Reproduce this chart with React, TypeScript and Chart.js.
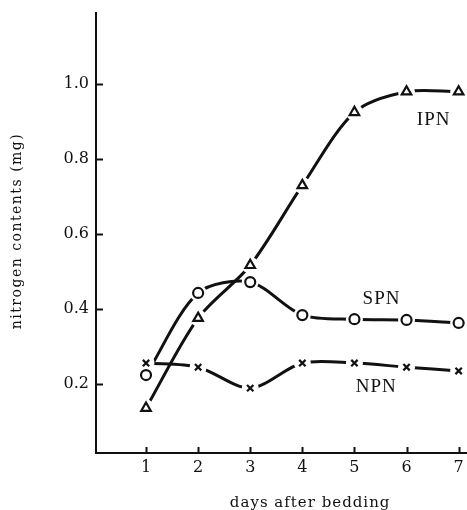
import React, { useEffect, useRef } from 'react';
import { Chart, registerables } from 'chart.js';
Chart.register(...registerables);

const days = [1, 2, 3, 4, 5, 6, 7];
const ipn = [0.136, 0.376, 0.517, 0.73, 0.925, 0.98, 0.98];
const spn = [0.224, 0.443, 0.472, 0.384, 0.373, 0.371, 0.363];
const npn = [0.256, 0.245, 0.189, 0.256, 0.256, 0.245, 0.235];
const yTicks = [0.2, 0.4, 0.6, 0.8, 1.0];
const xTicks = [1, 2, 3, 4, 5, 6, 7];
const seriesNames = ['IPN', 'SPN', 'NPN'];
const xTitle = 'days after bedding';
const yTitle = 'nitrogen contents (mg)';

// annotation anchors in data coordinates
const noteAnchors = [
  { x: 6.52, y: 0.905 },
  { x: 5.52, y: 0.428 },
  { x: 5.42, y: 0.193 },
];

const INK = '#111111';

const toPts = (vals: number[]) => days.map((d, i) => ({ x: d, y: vals[i] }));

const decor = {
  id: 'decor',
  afterDraw(chart: any) {
    const { ctx } = chart;
    const x = chart.scales.x;
    const y = chart.scales.y;
    ctx.save();
    ctx.strokeStyle = INK;
    ctx.lineWidth = 2;
    yTicks.forEach((v) => {
      const py = Math.round(y.getPixelForValue(v)) + 0.5;
      ctx.beginPath();
      ctx.moveTo(x.left, py);
      ctx.lineTo(x.left + 7, py);
      ctx.stroke();
    });
    xTicks.forEach((v) => {
      const px = Math.round(x.getPixelForValue(v)) + 0.5;
      ctx.beginPath();
      ctx.moveTo(px, y.bottom);
      ctx.lineTo(px, y.bottom - 6);
      ctx.stroke();
    });
    ctx.fillStyle = INK;
    ctx.textAlign = 'center';
    ctx.textBaseline = 'middle';
    ctx.font = '19px "Liberation Serif"';
    (ctx as any).letterSpacing = '1px';
    seriesNames.forEach((n, i) => {
      ctx.fillText(n, x.getPixelForValue(noteAnchors[i].x), y.getPixelForValue(noteAnchors[i].y));
    });
    ctx.font = '15px "DejaVu Serif"';
    (ctx as any).letterSpacing = '1px';
    ctx.fillText(xTitle, x.getPixelForValue(4.15), 503);
    ctx.save();
    ctx.translate(17, 231);
    ctx.rotate(-Math.PI / 2);
    ctx.font = '14px "DejaVu Serif"';
    (ctx as any).letterSpacing = '1.5px';
    ctx.fillText(yTitle, 0, 0);
    ctx.restore();
    ctx.restore();
  },
};

export default function App() {
  const ref = useRef<HTMLCanvasElement>(null);
  useEffect(() => {
    if (!ref.current) return;
    const lineDs = (data: number[]) => ({
      data: toPts(data),
      borderColor: INK,
      borderWidth: 3,
      pointRadius: 0,
      tension: 0.3,
      fill: false,
      order: 3,
    });
    const haloDs = (data: number[]) => ({
      data: toPts(data),
      showLine: false,
      pointRadius: 8.5,
      pointBackgroundColor: '#ffffff',
      pointBorderWidth: 0,
      pointBorderColor: '#ffffff',
      order: 2,
    });
    const markDs = (data: number[], style: any, r: number) => ({
      data: toPts(data),
      showLine: false,
      pointStyle: style,
      pointRadius: r,
      pointBackgroundColor: '#ffffff',
      pointBorderColor: INK,
      pointBorderWidth: 2.2,
      order: 1,
    });
    const chart = new Chart(ref.current, {
      type: 'line',
      data: {
        datasets: [
          lineDs(ipn), lineDs(spn), lineDs(npn),
          haloDs(ipn), haloDs(spn), haloDs(npn),
          markDs(ipn, 'triangle', 5.5), markDs(spn, 'circle', 5), markDs(npn, 'crossRot', 4.5),
        ] as any,
      },
      options: {
        animation: false,
        responsive: false,
        events: [],
        layout: { padding: { top: 13, right: 0, left: 0, bottom: 0 } },
        plugins: { legend: { display: false }, tooltip: { enabled: false } },
        scales: {
          x: {
            type: 'linear',
            min: 0.04,
            max: 7.17,
            grid: { display: false, drawTicks: false },
            border: { display: true, color: INK, width: 2 },
            afterBuildTicks: (s: any) => { s.ticks = xTicks.map((v) => ({ value: v })); },
            afterFit: (s: any) => { s.height = 57; s.paddingRight = 0; s.paddingLeft = 0; },
            ticks: {
              padding: 5,
              color: INK,
              font: { family: 'DejaVu Serif', size: 16 },
              callback: (v: any) => String(v),
            },
          },
          y: {
            type: 'linear',
            min: 0.016,
            max: 1.19,
            grid: { display: false, drawTicks: false },
            border: { display: true, color: INK, width: 2 },
            afterBuildTicks: (s: any) => { s.ticks = yTicks.map((v) => ({ value: v })); },
            afterFit: (s: any) => { s.width = 96; s.paddingTop = 0; s.paddingBottom = 0; },
            ticks: {
              padding: 7,
              color: INK,
              font: { family: 'DejaVu Serif', size: 16 },
              callback: (v: any) => Number(v).toFixed(1),
            },
          },
        },
      },
      plugins: [decor],
    });
    return () => chart.destroy();
  }, []);
  return (
    <div style={{ position: 'absolute', left: 0, top: 0, width: 467, height: 510, overflow: 'hidden', background: '#fff' }}>
      <canvas ref={ref} width={476} height={510} style={{ width: 476, height: 510 }} />
    </div>
  );
}
